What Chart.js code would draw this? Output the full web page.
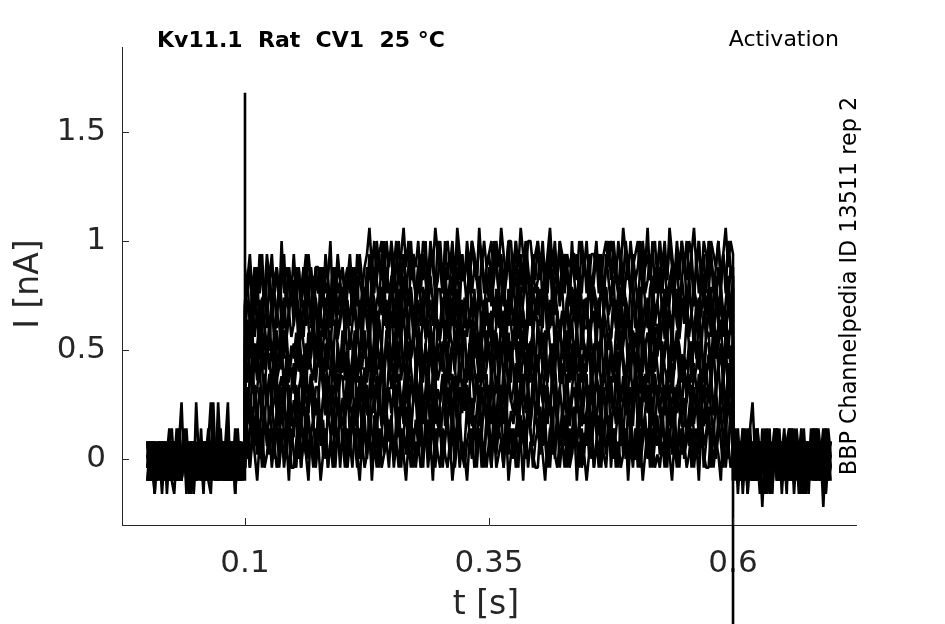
<!DOCTYPE html>
<html>
<head>
<meta charset="utf-8">
<title>Kv11.1 Rat CV1 25 °C - Activation</title>
<script src="https://cdn.jsdelivr.net/npm/chart.js@4.4.0/dist/chart.umd.min.js"></script>
<style>
    html, body { margin: 0; padding: 0; background: #fff; }
    #activationChart { display: block; }
</style>
</head>
<body>
<canvas id="activationChart" width="945" height="624"></canvas>
<script>
// Sample times [s]; 0.1 and 0.6 appear once more for the step transients
const t = [
    0,0.0025,0.005,0.0075,0.01,0.0125,0.015,0.0175,0.02,0.0225,
    0.025,0.0275,0.03,0.0325,0.035,0.0375,0.04,0.0425,0.045,0.0475,
    0.05,0.0525,0.055,0.0575,0.06,0.0625,0.065,0.0675,0.07,0.0725,
    0.075,0.0775,0.08,0.0825,0.085,0.0875,0.09,0.0925,0.095,0.0975,
    0.1,
    0.1,
    0.1,0.1025,0.105,0.1075,0.11,0.1125,0.115,0.1175,0.12,0.1225,
    0.125,0.1275,0.13,0.1325,0.135,0.1375,0.14,0.1425,0.145,0.1475,
    0.15,0.1525,0.155,0.1575,0.16,0.1625,0.165,0.1675,0.17,0.1725,
    0.175,0.1775,0.18,0.1825,0.185,0.1875,0.19,0.1925,0.195,0.1975,
    0.2,0.2025,0.205,0.2075,0.21,0.2125,0.215,0.2175,0.22,0.2225,
    0.225,0.2275,0.23,0.2325,0.235,0.2375,0.24,0.2425,0.245,0.2475,
    0.25,0.2525,0.255,0.2575,0.26,0.2625,0.265,0.2675,0.27,0.2725,
    0.275,0.2775,0.28,0.2825,0.285,0.2875,0.29,0.2925,0.295,0.2975,
    0.3,0.3025,0.305,0.3075,0.31,0.3125,0.315,0.3175,0.32,0.3225,
    0.325,0.3275,0.33,0.3325,0.335,0.3375,0.34,0.3425,0.345,0.3475,
    0.35,0.3525,0.355,0.3575,0.36,0.3625,0.365,0.3675,0.37,0.3725,
    0.375,0.3775,0.38,0.3825,0.385,0.3875,0.39,0.3925,0.395,0.3975,
    0.4,0.4025,0.405,0.4075,0.41,0.4125,0.415,0.4175,0.42,0.4225,
    0.425,0.4275,0.43,0.4325,0.435,0.4375,0.44,0.4425,0.445,0.4475,
    0.45,0.4525,0.455,0.4575,0.46,0.4625,0.465,0.4675,0.47,0.4725,
    0.475,0.4775,0.48,0.4825,0.485,0.4875,0.49,0.4925,0.495,0.4975,
    0.5,0.5025,0.505,0.5075,0.51,0.5125,0.515,0.5175,0.52,0.5225,
    0.525,0.5275,0.53,0.5325,0.535,0.5375,0.54,0.5425,0.545,0.5475,
    0.55,0.5525,0.555,0.5575,0.56,0.5625,0.565,0.5675,0.57,0.5725,
    0.575,0.5775,0.58,0.5825,0.585,0.5875,0.59,0.5925,0.595,0.5975,
    0.6,
    0.6,
    0.6,0.6025,0.605,0.6075,0.61,0.6125,0.615,0.6175,0.62,0.6225,
    0.625,0.6275,0.63,0.6325,0.635,0.6375,0.64,0.6425,0.645,0.6475,
    0.65,0.6525,0.655,0.6575,0.66,0.6625,0.665,0.6675,0.67,0.6725,
    0.675,0.6775,0.68,0.6825,0.685,0.6875,0.69,0.6925,0.695,0.6975,
    0.7
];

// Current sweeps [nA]: holding, test step (0.1-0.6 s), return
// (null = no transient sample on that sweep)
const sweep01 = [
    0.02,-0.04,0.08,-0.1,0.02,0.08,-0.04,0.02,-0.1,0.08,
    0.14,-0.04,0.02,-0.1,-0.04,0.08,0.02,-0.16,0.02,0.08,
    -0.04,0.02,0.08,-0.1,0.02,0.14,-0.04,0.02,-0.1,0.08,
    0.02,-0.04,0.08,0.26,-0.1,0.08,-0.04,0.02,0.08,-0.1,
    0.02,
    null,
    -0.04,0.08,-0.04,0.14,0.02,-0.1,0.08,0.14,-0.04,0.02,
    0.14,-0.04,0.08,-0.04,0.02,0.14,-0.04,0.08,-0.1,0.14,
    0.02,-0.04,0.14,-0.04,0.08,0.02,-0.1,0.14,0.02,-0.04,
    0.08,-0.1,0.02,0.14,-0.04,0.08,-0.04,0.02,0.14,-0.04,
    0.14,0.02,-0.04,0.08,-0.04,0.14,0.02,-0.1,0.08,-0.04,
    0.02,0.14,-0.1,0.08,-0.04,0.14,-0.04,0.02,0.08,-0.04,
    0.14,-0.04,0.08,-0.04,0.14,0.02,-0.1,0.08,-0.04,0.14,
    -0.04,0.08,-0.04,0.02,0.14,-0.04,0.08,-0.1,0.14,0.02,
    -0.04,0.14,0.02,-0.04,0.08,-0.1,0.02,0.14,-0.04,0.08,
    0.02,-0.1,0.08,0.14,-0.04,0.02,0.14,-0.04,0.08,-0.04,
    0.08,-0.04,0.14,-0.04,0.02,0.08,-0.04,0.14,-0.1,0.02,
    0.14,-0.04,0.02,0.08,-0.1,0.14,-0.04,0.08,0.02,-0.04,
    -0.04,0.14,0.02,-0.1,0.08,-0.04,0.14,0.02,-0.04,0.08,
    0.08,-0.04,0.14,-0.04,0.02,0.14,-0.1,0.08,-0.04,0.02,
    -0.1,0.02,0.14,-0.04,0.08,-0.04,0.14,0.02,-0.04,0.14,
    0.02,0.14,-0.04,0.08,-0.04,0.02,0.14,-0.1,0.08,-0.04,
    0.14,-0.04,0.08,-0.1,0.02,0.14,-0.04,0.08,-0.04,0.02,
    -0.04,0.08,-0.04,0.14,0.02,-0.1,0.08,-0.04,0.14,0.02,
    0.08,-0.04,0.02,0.14,-0.04,0.08,-0.1,0.14,0.02,-0.04,
    -0.04,0.14,-0.04,0.08,0.02,-0.1,0.14,-0.04,0.08,-0.04,
    0.02,
    null,
    0.02,-0.04,0.08,-0.1,0.02,0.08,-0.16,0.02,-0.04,0.08,
    -0.1,0.02,0.08,-0.04,0.14,0.02,-0.1,0.08,-0.04,0.02,
    0.08,-0.1,0.02,-0.04,0.08,-0.16,0.02,0.08,-0.04,0.02,
    -0.1,0.08,0.02,0.14,-0.04,0.02,0.08,-0.1,0.02,-0.04,
    0.08
];
const sweep02 = [
    -0.04,0.08,0.02,-0.16,0.02,-0.04,0.08,-0.1,0.02,0.08,
    -0.04,0.02,-0.1,0.08,0.26,-0.04,0.02,0.08,-0.1,0.02,
    0.08,-0.04,0.02,-0.16,0.08,0.02,-0.04,0.14,-0.1,0.02,
    -0.04,0.08,0.02,-0.1,0.08,-0.04,0.02,0.08,-0.1,-0.04,
    0.08,
    null,
    0.18,0,0.12,0.24,0.06,0.18,0,0.12,0.24,0.06,
    0.24,0.12,0,0.18,0.06,0.24,0.12,0,0.18,0.06,
    0.12,0.24,0,0.18,0.06,0.24,0,0.12,0.18,0,
    0.24,0.06,0.18,0,0.24,0.12,0,0.18,0.06,0.24,
    0.06,0.18,0,0.12,0.24,0.06,0.18,0,0.24,0.12,
    0,0.24,0.12,0.06,0.18,0,0.12,0.24,0.06,0.18,
    0.12,0,0.18,0.24,0.06,0.12,0.24,0,0.18,0.06,
    0.18,0.06,0.24,0,0.12,0.18,0.06,0.24,0,0.12,
    0.24,0,0.12,0.18,0,0.24,0.06,0.18,0.12,0,
    0.06,0.24,0.12,0,0.18,0.06,0.24,0.12,0,0.18,
    0.18,0,0.24,0.06,0.12,0.24,0,0.18,0.06,0.12,
    0,0.12,0.24,0.06,0.18,0,0.24,0.12,0.06,0.24,
    0.12,0.24,0.06,0.18,0,0.12,0.24,0,0.18,0.06,
    0.24,0.06,0.18,0,0.12,0.24,0.06,0.18,0,0.12,
    0.06,0.18,0,0.24,0.12,0,0.18,0.06,0.24,0.12,
    0.18,0,0.12,0.24,0.06,0.18,0,0.24,0.12,0,
    0,0.24,0.06,0.18,0.12,0,0.24,0.06,0.18,0.06,
    0.12,0.24,0,0.18,0.06,0.24,0.12,0,0.18,0.24,
    0,0.18,0.06,0.24,0.12,0,0.18,0.24,0.06,0.12,
    0.24,0.06,0.18,0,0.12,0.24,0.06,0.18,0,0.24,
    0.12,
    null,
    -0.04,0.08,0.02,-0.1,0.08,-0.04,0.02,0.14,0.26,0.02,
    -0.1,0.08,-0.04,0.02,-0.16,0.08,0.02,-0.04,0.08,-0.1,
    0.02,0.14,-0.04,0.02,-0.1,0.08,0.02,-0.04,-0.16,0.08,
    0.02,-0.1,0.08,-0.04,0.02,0.08,-0.1,0.02,0.14,-0.04,
    0.02
];
const sweep03 = [
    0.08,-0.1,0.02,0.08,-0.04,0.02,-0.1,0.08,-0.16,0.02,
    0.08,-0.04,0.14,0.02,-0.1,0.08,-0.04,0.02,0.08,-0.1,
    0.26,0.02,-0.04,0.08,-0.1,0.02,0.08,-0.04,0.02,-0.1,
    0.08,0.02,-0.04,0.14,-0.1,0.02,-0.16,0.08,0.02,-0.04,
    0.02,
    null,
    0.34,0.16,0.28,0.1,0.34,0.22,0.1,0.28,0.16,0.34,
    0.16,0.28,0.1,0.22,0.34,0.16,0.28,0.1,0.34,0.22,
    0.1,0.34,0.22,0.16,0.28,0.1,0.22,0.34,0.16,0.28,
    0.22,0.1,0.28,0.34,0.16,0.22,0.34,0.1,0.28,0.16,
    0.28,0.16,0.34,0.1,0.22,0.28,0.16,0.34,0.1,0.22,
    0.34,0.1,0.22,0.28,0.1,0.34,0.16,0.28,0.22,0.1,
    0.16,0.34,0.22,0.1,0.28,0.16,0.34,0.22,0.1,0.28,
    0.28,0.1,0.34,0.16,0.22,0.34,0.1,0.28,0.16,0.22,
    0.1,0.22,0.34,0.16,0.28,0.1,0.34,0.22,0.16,0.34,
    0.22,0.34,0.16,0.28,0.1,0.22,0.34,0.1,0.28,0.16,
    0.34,0.16,0.28,0.1,0.22,0.34,0.16,0.28,0.1,0.22,
    0.16,0.28,0.1,0.34,0.22,0.1,0.28,0.16,0.34,0.22,
    0.28,0.1,0.22,0.34,0.16,0.28,0.1,0.34,0.22,0.1,
    0.1,0.34,0.16,0.28,0.22,0.1,0.34,0.16,0.28,0.16,
    0.22,0.34,0.1,0.28,0.16,0.34,0.22,0.1,0.28,0.34,
    0.1,0.28,0.16,0.34,0.22,0.1,0.28,0.34,0.16,0.22,
    0.34,0.16,0.28,0.1,0.22,0.34,0.16,0.28,0.1,0.34,
    0.22,0.1,0.34,0.16,0.28,0.22,0.1,0.34,0.22,0.16,
    0.28,0.1,0.22,0.34,0.16,0.28,0.1,0.22,0.34,0.16,
    0.34,0.22,0.1,0.28,0.16,0.34,0.22,0.1,0.28,0.16,
    0.22,
    null,
    0.08,-0.1,0.02,0.08,-0.04,0.02,-0.16,0.08,0.02,-0.04,
    0.14,0.02,-0.22,0.02,0.08,-0.04,0.02,0.08,-0.1,0.02,
    -0.04,0.08,0.02,-0.1,0.14,-0.04,0.02,0.08,-0.1,-0.16,
    0.08,0.02,-0.04,0.08,-0.1,0.02,0.08,-0.04,0.02,0.08,
    -0.1
];
const sweep04 = [
    -0.1,0.02,0.08,-0.04,0.02,-0.1,0.08,0.02,-0.04,0.08,
    -0.1,-0.16,0.02,0.08,-0.04,0.14,0.02,-0.1,0.08,-0.04,
    0.02,0.08,-0.1,0.02,-0.04,0.08,0.26,-0.04,0.02,0.08,
    -0.1,0.02,0.08,-0.04,0.02,-0.1,0.08,0.14,-0.04,0.02,
    -0.04,
    null,
    0.32,0.2,0.38,0.44,0.26,0.32,0.44,0.2,0.38,0.26,
    0.38,0.26,0.44,0.2,0.32,0.38,0.26,0.44,0.2,0.32,
    0.44,0.2,0.32,0.38,0.2,0.44,0.26,0.38,0.32,0.2,
    0.26,0.44,0.32,0.2,0.38,0.26,0.44,0.32,0.2,0.38,
    0.38,0.2,0.44,0.26,0.32,0.44,0.2,0.38,0.26,0.32,
    0.2,0.32,0.44,0.26,0.38,0.2,0.44,0.32,0.26,0.44,
    0.32,0.44,0.26,0.38,0.2,0.32,0.44,0.2,0.38,0.26,
    0.44,0.26,0.38,0.2,0.32,0.44,0.26,0.38,0.2,0.32,
    0.26,0.38,0.2,0.44,0.32,0.2,0.38,0.26,0.44,0.32,
    0.38,0.2,0.32,0.44,0.26,0.38,0.2,0.44,0.32,0.2,
    0.2,0.44,0.26,0.38,0.32,0.2,0.44,0.26,0.38,0.26,
    0.32,0.44,0.2,0.38,0.26,0.44,0.32,0.2,0.38,0.44,
    0.2,0.38,0.26,0.44,0.32,0.2,0.38,0.44,0.26,0.32,
    0.44,0.26,0.38,0.2,0.32,0.44,0.26,0.38,0.2,0.44,
    0.32,0.2,0.44,0.26,0.38,0.32,0.2,0.44,0.32,0.26,
    0.38,0.2,0.32,0.44,0.26,0.38,0.2,0.32,0.44,0.26,
    0.44,0.32,0.2,0.38,0.26,0.44,0.32,0.2,0.38,0.26,
    0.32,0.44,0.2,0.38,0.26,0.44,0.2,0.32,0.38,0.2,
    0.44,0.26,0.38,0.2,0.44,0.32,0.2,0.38,0.26,0.44,
    0.26,0.38,0.2,0.32,0.44,0.26,0.38,0.2,0.44,0.32,
    0.2,
    null,
    0.02,0.14,-0.04,0.02,-0.1,0.08,0.02,-0.04,0.08,-0.1,
    0.02,-0.16,0.08,0.02,-0.04,0.08,-0.1,0.02,0.14,-0.04,
    0.02,0.08,-0.1,0.02,-0.04,0.08,0.02,-0.16,0.08,-0.04,
    0.02,-0.1,0.08,0.02,-0.04,0.14,0.02,-0.22,0.02,0.08,
    -0.04
];
const sweep05 = [
    0.02,0.08,-0.04,-0.1,0.08,0.02,-0.16,0.02,0.08,-0.04,
    0.02,-0.1,0.08,0.14,0.02,-0.04,0.08,-0.1,0.02,-0.16,
    0.02,0.08,-0.04,0.02,-0.1,0.08,0.02,0.26,-0.04,0.02,
    0.08,-0.1,-0.04,0.02,0.08,0.02,-0.1,0.08,-0.04,0.02,
    0.08,
    null,
    0.36,0.54,0.42,0.3,0.48,0.36,0.54,0.42,0.3,0.48,
    0.48,0.3,0.54,0.36,0.42,0.54,0.3,0.48,0.36,0.42,
    0.3,0.42,0.54,0.36,0.48,0.3,0.54,0.42,0.36,0.54,
    0.42,0.54,0.36,0.48,0.3,0.42,0.54,0.3,0.48,0.36,
    0.54,0.36,0.48,0.3,0.42,0.54,0.36,0.48,0.3,0.42,
    0.36,0.48,0.3,0.54,0.42,0.3,0.48,0.36,0.54,0.42,
    0.48,0.3,0.42,0.54,0.36,0.48,0.3,0.54,0.42,0.3,
    0.3,0.54,0.36,0.48,0.42,0.3,0.54,0.36,0.48,0.36,
    0.42,0.54,0.3,0.48,0.36,0.54,0.42,0.3,0.48,0.54,
    0.3,0.48,0.36,0.54,0.42,0.3,0.48,0.54,0.36,0.42,
    0.54,0.36,0.48,0.3,0.42,0.54,0.36,0.48,0.3,0.54,
    0.42,0.3,0.54,0.36,0.48,0.42,0.3,0.54,0.42,0.36,
    0.48,0.3,0.42,0.54,0.36,0.48,0.3,0.42,0.54,0.36,
    0.54,0.42,0.3,0.48,0.36,0.54,0.42,0.3,0.48,0.36,
    0.42,0.54,0.3,0.48,0.36,0.54,0.3,0.42,0.48,0.3,
    0.54,0.36,0.48,0.3,0.54,0.42,0.3,0.48,0.36,0.54,
    0.36,0.48,0.3,0.42,0.54,0.36,0.48,0.3,0.54,0.42,
    0.3,0.54,0.42,0.36,0.48,0.3,0.42,0.54,0.36,0.48,
    0.42,0.3,0.48,0.54,0.36,0.42,0.54,0.3,0.48,0.36,
    0.48,0.36,0.54,0.3,0.42,0.48,0.36,0.54,0.3,0.42,
    0.54,
    null,
    -0.1,0.02,0.08,-0.04,0.14,-0.1,0.02,0.08,-0.04,0.02,
    0.08,-0.1,-0.04,0.08,0.02,-0.16,0.02,0.08,-0.04,0.14,
    -0.1,0.02,0.08,-0.04,0.02,0.08,-0.1,0.02,0.14,-0.04,
    0.02,-0.16,0.08,0.02,-0.04,0.08,-0.1,0.02,0.08,0.02,
    -0.04
];
const sweep06 = [
    -0.04,0.02,-0.1,0.08,0.02,-0.04,0.08,-0.1,0.02,0.14,
    -0.04,0.08,0.02,-0.1,0.02,0.08,-0.16,0.02,-0.04,0.08,
    -0.1,0.02,0.08,-0.04,0.02,-0.1,0.08,0.02,-0.04,0.26,
    0.02,-0.1,0.08,-0.04,0.02,0.08,-0.1,0.02,0.08,-0.04,
    0.02,
    null,
    0.52,0.64,0.46,0.58,0.4,0.52,0.64,0.4,0.58,0.46,
    0.64,0.46,0.58,0.4,0.52,0.64,0.46,0.58,0.4,0.52,
    0.46,0.58,0.4,0.64,0.52,0.4,0.58,0.46,0.64,0.52,
    0.58,0.4,0.52,0.64,0.46,0.58,0.4,0.64,0.52,0.4,
    0.4,0.64,0.46,0.58,0.52,0.4,0.64,0.46,0.58,0.46,
    0.52,0.64,0.4,0.58,0.46,0.64,0.52,0.4,0.58,0.64,
    0.4,0.58,0.46,0.64,0.52,0.4,0.58,0.64,0.46,0.52,
    0.64,0.46,0.58,0.4,0.52,0.64,0.46,0.58,0.4,0.64,
    0.52,0.4,0.64,0.46,0.58,0.52,0.4,0.64,0.52,0.46,
    0.58,0.4,0.52,0.64,0.46,0.58,0.4,0.52,0.64,0.46,
    0.64,0.52,0.4,0.58,0.46,0.64,0.52,0.4,0.58,0.46,
    0.52,0.64,0.4,0.58,0.46,0.64,0.4,0.52,0.58,0.4,
    0.64,0.46,0.58,0.4,0.64,0.52,0.4,0.58,0.46,0.64,
    0.46,0.58,0.4,0.52,0.64,0.46,0.58,0.4,0.64,0.52,
    0.4,0.64,0.52,0.46,0.58,0.4,0.52,0.64,0.46,0.58,
    0.52,0.4,0.58,0.64,0.46,0.52,0.64,0.4,0.58,0.46,
    0.58,0.46,0.64,0.4,0.52,0.58,0.46,0.64,0.4,0.52,
    0.64,0.4,0.52,0.58,0.4,0.64,0.46,0.58,0.52,0.4,
    0.46,0.64,0.52,0.4,0.58,0.46,0.64,0.52,0.4,0.58,
    0.58,0.4,0.64,0.46,0.52,0.64,0.4,0.58,0.46,0.52,
    0.4,
    null,
    0.08,0.02,-0.04,0.08,-0.16,0.02,0.14,-0.04,0.02,-0.1,
    0.08,0.02,-0.04,0.14,-0.1,0.02,0.08,-0.04,0.02,0.08,
    -0.16,0.02,0.08,-0.04,0.02,-0.1,0.14,0.02,-0.04,0.08,
    -0.1,0.02,0.08,-0.04,0.14,0.02,-0.1,0.08,-0.16,0.02,
    0.08
];
const sweep07 = [
    0.08,0.02,-0.04,0.08,-0.1,0.02,0.08,-0.04,0.02,-0.1,
    0.08,0.02,-0.04,0.14,-0.1,0.02,0.08,-0.04,0.02,0.08,
    -0.1,0.02,-0.04,0.08,0.02,-0.1,-0.16,0.08,0.02,-0.04,
    0.08,0.02,-0.1,0.02,0.08,-0.04,0.14,0.02,-0.1,0.08,
    -0.04,
    null,
    0.68,0.5,0.62,0.74,0.56,0.68,0.5,0.74,0.62,0.5,
    0.5,0.74,0.56,0.68,0.62,0.5,0.74,0.56,0.68,0.56,
    0.62,0.74,0.5,0.68,0.56,0.74,0.62,0.5,0.68,0.74,
    0.5,0.68,0.56,0.74,0.62,0.5,0.68,0.74,0.56,0.62,
    0.74,0.56,0.68,0.5,0.62,0.74,0.56,0.68,0.5,0.74,
    0.62,0.5,0.74,0.56,0.68,0.62,0.5,0.74,0.62,0.56,
    0.68,0.5,0.62,0.74,0.56,0.68,0.5,0.62,0.74,0.56,
    0.74,0.62,0.5,0.68,0.56,0.74,0.62,0.5,0.68,0.56,
    0.62,0.74,0.5,0.68,0.56,0.74,0.5,0.62,0.68,0.5,
    0.74,0.56,0.68,0.5,0.74,0.62,0.5,0.68,0.56,0.74,
    0.56,0.68,0.5,0.62,0.74,0.56,0.68,0.5,0.74,0.62,
    0.5,0.74,0.62,0.56,0.68,0.5,0.62,0.74,0.56,0.68,
    0.62,0.5,0.68,0.74,0.56,0.62,0.74,0.5,0.68,0.56,
    0.68,0.56,0.74,0.5,0.62,0.68,0.56,0.74,0.5,0.62,
    0.74,0.5,0.62,0.68,0.5,0.74,0.56,0.68,0.62,0.5,
    0.56,0.74,0.62,0.5,0.68,0.56,0.74,0.62,0.5,0.68,
    0.68,0.5,0.74,0.56,0.62,0.74,0.5,0.68,0.56,0.62,
    0.5,0.62,0.74,0.56,0.68,0.5,0.74,0.62,0.56,0.74,
    0.62,0.74,0.56,0.68,0.5,0.62,0.74,0.5,0.68,0.56,
    0.74,0.56,0.68,0.5,0.62,0.74,0.56,0.68,0.5,0.62,
    0.56,
    null,
    -0.04,0.02,0.08,-0.1,0.02,0.14,-0.04,0.08,-0.1,0.02,
    -0.04,0.08,0.02,-0.16,0.08,-0.04,0.02,0.14,-0.1,0.02,
    0.08,-0.04,0.02,0.08,-0.1,0.14,0.02,-0.04,0.08,0.02,
    -0.16,0.08,-0.04,0.02,0.08,-0.1,0.02,0.14,-0.04,0.02,
    0.02
];
const sweep08 = [
    0.02,-0.1,0.08,0.02,-0.04,0.08,0.02,-0.1,0.08,-0.04,
    0.02,0.08,-0.1,0.02,-0.04,0.08,0.02,-0.04,-0.16,0.08,
    0.02,-0.04,0.14,-0.1,0.02,0.08,-0.04,0.02,0.08,-0.1,
    0.02,0.08,-0.04,0.02,-0.1,0.08,0.02,-0.04,0.08,0.02,
    -0.1,
    null,
    0.72,0.84,0.6,0.78,0.66,0.84,0.6,0.72,0.78,0.6,
    0.84,0.66,0.78,0.6,0.84,0.72,0.6,0.78,0.66,0.84,
    0.66,0.78,0.6,0.72,0.84,0.66,0.78,0.6,0.84,0.72,
    0.6,0.84,0.72,0.66,0.78,0.6,0.72,0.84,0.66,0.78,
    0.72,0.6,0.78,0.84,0.66,0.72,0.84,0.6,0.78,0.66,
    0.78,0.66,0.84,0.6,0.72,0.78,0.66,0.84,0.6,0.72,
    0.84,0.6,0.72,0.78,0.6,0.84,0.66,0.78,0.72,0.6,
    0.66,0.84,0.72,0.6,0.78,0.66,0.84,0.72,0.6,0.78,
    0.78,0.6,0.84,0.66,0.72,0.84,0.6,0.78,0.66,0.72,
    0.6,0.72,0.84,0.66,0.78,0.6,0.84,0.72,0.66,0.84,
    0.72,0.84,0.66,0.78,0.6,0.72,0.84,0.6,0.78,0.66,
    0.84,0.66,0.78,0.6,0.72,0.84,0.66,0.78,0.6,0.72,
    0.66,0.78,0.6,0.84,0.72,0.6,0.78,0.66,0.84,0.72,
    0.78,0.6,0.72,0.84,0.66,0.78,0.6,0.84,0.72,0.6,
    0.6,0.84,0.66,0.78,0.72,0.6,0.84,0.66,0.78,0.66,
    0.72,0.84,0.6,0.78,0.66,0.84,0.72,0.6,0.78,0.84,
    0.6,0.78,0.66,0.84,0.72,0.6,0.78,0.84,0.66,0.72,
    0.84,0.66,0.78,0.6,0.72,0.84,0.66,0.78,0.6,0.84,
    0.72,0.6,0.84,0.66,0.78,0.72,0.6,0.84,0.72,0.66,
    0.78,0.6,0.72,0.84,0.66,0.78,0.6,0.72,0.84,0.66,
    0.84,
    null,
    0.14,-0.04,0.02,-0.1,0.08,0.02,-0.04,0.08,-0.1,0.14,
    0.02,-0.04,0.08,-0.1,0.02,0.14,-0.16,0.02,0.08,-0.04,
    0.02,-0.1,0.08,0.14,-0.04,0.02,0.08,-0.1,0.02,-0.16,
    0.08,0.02,-0.04,0.14,0.02,-0.1,0.08,0.02,-0.04,0.14,
    0.02
];
const sweep09 = [
    -0.1,0.08,-0.04,-0.16,0.08,0.02,-0.04,0.08,0.02,-0.1,
    0.08,-0.04,0.02,0.08,-0.1,0.02,0.14,-0.04,0.08,0.02,
    -0.1,0.02,0.08,-0.04,0.02,0.08,-0.1,0.02,-0.04,0.08,
    0.14,-0.04,0.02,-0.1,0.08,0.02,-0.04,0.08,-0.1,0.02,
    0.08,
    null,
    0.7,0.82,0.94,0.76,0.88,0.7,0.94,0.82,0.76,0.94,
    0.82,0.94,0.76,0.88,0.7,0.82,0.94,0.7,0.88,0.76,
    0.94,0.76,0.88,0.7,0.82,0.94,0.76,0.88,0.7,0.82,
    0.76,0.88,0.7,0.94,0.82,0.7,0.88,0.76,0.94,0.82,
    0.88,0.7,0.82,0.94,0.76,0.88,0.7,0.94,0.82,0.7,
    0.7,0.94,0.76,0.88,0.82,0.7,0.94,0.76,0.88,0.76,
    0.82,0.94,0.7,0.88,0.76,0.94,0.82,0.7,0.88,0.94,
    0.7,0.88,0.76,0.94,0.82,0.7,0.88,0.94,0.76,0.82,
    0.94,0.76,0.88,0.7,0.82,0.94,0.76,0.88,0.7,0.94,
    0.82,0.7,0.94,0.76,0.88,0.82,0.7,0.94,0.82,0.76,
    0.88,0.7,0.82,0.94,0.76,0.88,0.7,0.82,0.94,0.76,
    0.94,0.82,0.7,0.88,0.76,0.94,0.82,0.7,0.88,0.76,
    0.82,0.94,0.7,0.88,0.76,0.94,0.7,0.82,0.88,0.7,
    0.94,0.76,0.88,0.7,0.94,0.82,0.7,0.88,0.76,0.94,
    0.76,0.88,0.7,0.82,0.94,0.76,0.88,0.7,0.94,0.82,
    0.7,0.94,0.82,0.76,0.88,0.7,0.82,0.94,0.76,0.88,
    0.82,0.7,0.88,0.94,0.76,0.82,0.94,0.7,0.88,0.76,
    0.88,0.76,0.94,0.7,0.82,0.88,0.76,0.94,0.7,0.82,
    0.94,0.7,0.82,0.88,0.7,0.94,0.76,0.88,0.82,0.7,
    0.76,0.94,0.82,0.7,0.88,0.76,0.94,0.82,0.7,0.88,
    0.88,
    null,
    0.02,0.08,-0.16,0.02,0.14,-0.04,0.02,0.08,-0.1,0.02,
    0.14,-0.04,0.08,0.02,-0.1,0.08,-0.04,0.14,0.02,-0.1,
    0.08,0.02,-0.16,0.14,0.02,-0.04,0.08,0.02,-0.1,0.14,
    -0.04,0.02,0.08,-0.1,0.14,0.02,-0.04,0.08,-0.16,0.02,
    0.08
];
const sweep10 = [
    0.08,-0.04,0.02,0.08,-0.1,0.02,-0.04,0.08,0.02,-0.1,
    0.02,0.08,-0.04,0.02,-0.1,0.08,0.02,-0.04,0.08,0.02,
    -0.04,0.08,-0.1,0.02,0.08,-0.04,0.02,-0.1,0.08,0.02,
    -0.04,0.08,0.02,-0.1,0.02,0.08,-0.16,0.02,0.08,-0.04,
    0.02,
    1.68,
    0.88,0.76,0.88,0.7,0.82,0.88,0.76,0.94,0.7,0.82,
    0.88,0.7,0.82,0.88,0.7,1,0.76,0.88,0.82,0.7,
    0.76,0.88,0.82,0.7,0.88,0.76,0.94,0.82,0.7,0.88,
    0.88,0.7,0.88,0.76,0.82,1,0.7,0.88,0.76,0.82,
    0.7,0.82,0.88,0.76,0.88,0.7,0.94,0.82,0.76,0.88,
    0.94,1.06,0.88,1,0.82,0.94,1,0.82,1,0.88,
    1,0.88,1,0.82,0.94,1.06,0.88,1,0.82,0.94,
    0.88,1,0.82,1,0.94,0.82,1,0.88,1.06,0.94,
    1,0.82,0.94,1,0.88,1,0.82,1.06,0.94,0.82,
    0.82,1,0.88,1,0.94,0.82,1.06,0.88,1,0.88,
    0.94,1,0.82,1,0.88,1.06,0.94,0.82,1,1,
    0.82,1,0.88,1.06,0.94,0.82,1,1,0.88,0.94,
    1,0.88,1,0.82,0.94,1.06,0.88,1,0.82,1,
    0.94,0.82,0.94,0.88,0.94,0.94,0.82,1,0.94,0.88,
    1,0.82,0.94,0.94,0.88,0.94,0.82,0.94,1,0.88,
    1,0.94,0.82,1,0.88,1.06,0.94,0.82,1,0.88,
    0.94,1,0.82,1,0.88,1.06,0.82,0.94,1,0.82,
    1,0.88,1,0.82,1.06,0.94,0.82,1,0.88,1,
    0.88,1,0.82,0.94,1.06,0.88,1,0.82,1,0.94,
    0.82,1,0.94,0.88,1,0.82,0.94,1.06,0.88,1,
    0.94,
    -1.0,
    -0.1,0.02,0.14,-0.04,0.08,0.02,-0.1,0.14,-0.04,0.02,
    0.08,-0.1,0.14,0.02,-0.04,0.08,-0.16,0.02,0.14,-0.04,
    0.02,0.08,-0.1,0.02,0.14,-0.04,0.08,0.02,-0.16,0.08,
    0.02,-0.04,0.14,0.02,-0.1,0.08,0.02,-0.04,0.14,-0.1,
    0.02
];
const sweep11 = [
    -0.04,0.08,-0.1,0.02,0.02,-0.04,0.08,-0.1,0.02,0.02,
    -0.1,0.08,0.02,-0.1,0.02,-0.04,0.08,-0.1,0.02,0.02,
    0.02,-0.04,0.08,-0.1,0.02,0.02,-0.1,0.08,-0.04,0.02,
    0.02,0.02,-0.1,0.08,-0.04,0.02,0.02,-0.1,0.08,-0.04,
    0.08,
    null,
    0.2,0.14,-0.04,0.08,0.2,0.02,0.14,-0.04,0.2,0.08,
    0.02,0.14,0.02,0.2,-0.04,0.08,0.14,0.02,0.2,-0.04,
    -0.04,0.08,0.2,-0.04,0.14,0.02,0.2,0.08,-0.04,0.14,
    0.08,0.2,0.02,0.14,-0.04,0.08,0.2,-0.04,0.14,0.02,
    0.08,-0.04,0.14,0.02,0.2,0.08,-0.04,0.14,0.02,0.2,
    0.02,0.14,-0.04,0.2,0.08,-0.04,0.14,0.02,0.2,0.08,
    0.2,0.02,0.08,0.2,-0.04,0.14,0.02,0.2,0.08,-0.04,
    0.08,0.02,0.14,-0.04,0.2,0.08,0.02,0.2,-0.04,0.14,
    0.14,-0.04,0.08,0.2,0.02,0.14,-0.04,0.08,0.2,0.02,
    -0.04,0.08,0.14,0.02,0.2,-0.04,0.14,0.08,-0.04,0.2,
    0.08,-0.04,0.2,0.02,0.14,0.08,-0.04,0.2,0.02,0.14,
    0.02,0.14,-0.04,0.2,0.08,0.02,0.2,0.14,-0.04,0.08,
    0.14,0.02,0.2,0.08,-0.04,0.14,0.02,0.08,0.2,-0.04,
    0.08,0.2,-0.04,0.14,0.02,0.2,0.08,-0.04,0.14,0.02,
    0.2,0.02,0.14,-0.04,0.08,0.2,-0.04,0.14,0.02,0.2,
    -0.04,0.14,0.08,-0.04,0.2,0.02,0.14,-0.04,0.2,0.08,
    0.02,0.14,-0.04,0.08,0.2,0.02,0.14,-0.04,0.08,0.2,
    0.02,0.2,0.08,-0.04,0.14,0.02,0.2,0.08,-0.04,0.14,
    0.02,0.08,0.2,-0.04,0.08,0.14,0.02,0.2,-0.04,0.08,
    0.2,-0.04,0.14,0.02,0.2,0.08,-0.04,0.14,0.02,0.2,
    0.08,
    null,
    -0.04,0.08,-0.1,0.02,0.02,-0.04,0.02,0.08,-0.1,0.02,
    0.02,-0.1,0.02,-0.04,0.08,0.02,-0.1,0.02,-0.04,0.08,
    -0.1,0.02,0.08,-0.04,0.02,-0.1,0.08,0.02,-0.1,0.02,
    0.08,-0.1,0.02,0.02,-0.04,0.08,-0.1,0.02,0.02,-0.04,
    0.02
];
const sweep12 = [
    0.08,-0.04,0.02,0.02,-0.1,0.08,-0.04,0.02,0.02,-0.1,
    -0.04,0.08,-0.1,0.02,0.02,-0.04,0.02,0.08,-0.1,0.02,
    0.02,-0.1,0.02,-0.04,0.08,0.02,-0.1,0.02,-0.04,0.08,
    -0.1,0.02,0.08,-0.04,0.02,-0.1,0.08,0.02,-0.1,0.02,
    0.08,
    null,
    0.21,0.33,0.15,0.39,0.27,0.15,0.33,0.21,0.39,0.27,
    0.39,0.21,0.27,0.39,0.15,0.33,0.21,0.39,0.27,0.15,
    0.27,0.21,0.33,0.15,0.39,0.27,0.21,0.39,0.15,0.33,
    0.33,0.15,0.27,0.39,0.21,0.33,0.15,0.27,0.39,0.21,
    0.15,0.27,0.33,0.21,0.39,0.15,0.33,0.27,0.15,0.39,
    0.27,0.15,0.39,0.21,0.33,0.27,0.15,0.39,0.21,0.33,
    0.21,0.33,0.15,0.39,0.27,0.21,0.39,0.33,0.15,0.27,
    0.33,0.21,0.39,0.27,0.15,0.33,0.21,0.27,0.39,0.15,
    0.27,0.39,0.15,0.33,0.21,0.39,0.27,0.15,0.33,0.21,
    0.39,0.21,0.33,0.15,0.27,0.39,0.15,0.33,0.21,0.39,
    0.15,0.33,0.27,0.15,0.39,0.21,0.33,0.15,0.39,0.27,
    0.21,0.33,0.15,0.27,0.39,0.21,0.33,0.15,0.27,0.39,
    0.21,0.39,0.27,0.15,0.33,0.21,0.39,0.27,0.15,0.33,
    0.21,0.27,0.39,0.15,0.27,0.33,0.21,0.39,0.15,0.27,
    0.39,0.15,0.33,0.21,0.39,0.27,0.15,0.33,0.21,0.39,
    0.27,0.21,0.39,0.33,0.15,0.27,0.39,0.21,0.33,0.15,
    0.39,0.33,0.15,0.27,0.39,0.21,0.33,0.15,0.39,0.27,
    0.21,0.33,0.21,0.39,0.15,0.27,0.33,0.21,0.39,0.15,
    0.15,0.27,0.39,0.15,0.33,0.21,0.39,0.27,0.15,0.33,
    0.27,0.39,0.21,0.33,0.15,0.27,0.39,0.15,0.33,0.21,
    0.27,
    null,
    0.02,-0.04,0.08,-0.1,0.02,0.02,-0.04,0.02,-0.1,0.08,
    0.02,-0.04,0.02,0.02,-0.1,0.08,-0.04,0.02,0.02,-0.1,
    -0.04,0.08,-0.1,0.02,0.02,-0.1,0.08,-0.04,0.02,0.02,
    0.02,-0.1,0.08,-0.04,0.02,0.02,-0.1,0.08,-0.04,0.02,
    0.02
];
const sweep13 = [
    0.08,-0.1,0.02,0.02,-0.04,0.08,-0.1,0.02,0.02,-0.04,
    0.02,-0.04,0.08,-0.1,0.02,0.02,-0.04,0.02,-0.1,0.08,
    0.02,-0.04,0.02,0.02,-0.1,0.08,-0.04,0.02,0.02,-0.1,
    -0.04,0.08,-0.1,0.02,0.02,-0.1,0.08,-0.04,0.02,0.02,
    0.02,
    null,
    0.47,0.35,0.59,0.41,0.53,0.47,0.35,0.59,0.41,0.53,
    0.41,0.53,0.35,0.59,0.47,0.41,0.59,0.53,0.35,0.47,
    0.53,0.41,0.59,0.47,0.35,0.53,0.41,0.47,0.59,0.35,
    0.47,0.59,0.35,0.53,0.41,0.59,0.47,0.35,0.53,0.41,
    0.59,0.41,0.53,0.35,0.47,0.59,0.35,0.53,0.41,0.59,
    0.35,0.53,0.47,0.35,0.59,0.41,0.53,0.35,0.59,0.47,
    0.41,0.53,0.35,0.47,0.59,0.41,0.53,0.35,0.47,0.59,
    0.41,0.59,0.47,0.35,0.53,0.41,0.59,0.47,0.35,0.53,
    0.41,0.47,0.59,0.35,0.47,0.53,0.41,0.59,0.35,0.47,
    0.59,0.35,0.53,0.41,0.59,0.47,0.35,0.53,0.41,0.59,
    0.47,0.41,0.59,0.53,0.35,0.47,0.59,0.41,0.53,0.35,
    0.59,0.53,0.35,0.47,0.59,0.41,0.53,0.35,0.59,0.47,
    0.41,0.53,0.41,0.59,0.35,0.47,0.53,0.41,0.59,0.35,
    0.35,0.47,0.59,0.35,0.53,0.41,0.59,0.47,0.35,0.53,
    0.47,0.59,0.41,0.53,0.35,0.47,0.59,0.35,0.53,0.41,
    0.47,0.35,0.53,0.41,0.59,0.47,0.35,0.53,0.41,0.59,
    0.41,0.53,0.35,0.59,0.47,0.35,0.53,0.41,0.59,0.47,
    0.59,0.41,0.47,0.59,0.35,0.53,0.41,0.59,0.47,0.35,
    0.47,0.41,0.53,0.35,0.59,0.47,0.41,0.59,0.35,0.53,
    0.53,0.35,0.47,0.59,0.41,0.53,0.35,0.47,0.59,0.41,
    0.35,
    null,
    0.02,0.02,-0.04,0.08,-0.1,0.02,0.02,-0.1,0.08,-0.04,
    -0.1,0.02,0.02,-0.1,0.08,-0.04,0.02,0.02,-0.1,0.08,
    -0.04,0.08,-0.04,0.02,-0.1,0.02,0.08,-0.04,0.02,-0.1,
    0.02,0.08,-0.1,0.02,0.02,-0.04,0.08,-0.1,0.02,0.02,
    0.02
];
const sweep14 = [
    0.02,-0.1,0.08,-0.04,0.02,0.02,-0.1,0.08,-0.04,0.02,
    0.02,0.02,-0.04,0.08,-0.1,0.02,0.02,-0.1,0.08,-0.04,
    -0.1,0.02,0.02,-0.1,0.08,-0.04,0.02,0.02,-0.1,0.08,
    -0.04,0.08,-0.04,0.02,-0.1,0.02,0.08,-0.04,0.02,-0.1,
    0.02,
    null,
    0.55,0.73,0.67,0.55,0.79,0.61,0.73,0.55,0.79,0.67,
    0.61,0.73,0.55,0.67,0.79,0.61,0.73,0.55,0.67,0.79,
    0.61,0.79,0.67,0.55,0.73,0.61,0.79,0.67,0.55,0.73,
    0.61,0.67,0.79,0.55,0.67,0.73,0.61,0.79,0.55,0.67,
    0.79,0.55,0.73,0.61,0.79,0.67,0.55,0.73,0.61,0.79,
    0.67,0.61,0.79,0.73,0.55,0.67,0.79,0.61,0.73,0.55,
    0.79,0.73,0.55,0.67,0.79,0.61,0.73,0.55,0.79,0.67,
    0.61,0.73,0.61,0.79,0.55,0.67,0.73,0.61,0.79,0.55,
    0.55,0.67,0.79,0.55,0.73,0.61,0.79,0.67,0.55,0.73,
    0.67,0.79,0.61,0.73,0.55,0.67,0.79,0.55,0.73,0.61,
    0.67,0.55,0.73,0.61,0.79,0.67,0.55,0.73,0.61,0.79,
    0.61,0.73,0.55,0.79,0.67,0.55,0.73,0.61,0.79,0.67,
    0.79,0.61,0.67,0.79,0.55,0.73,0.61,0.79,0.67,0.55,
    0.67,0.61,0.73,0.55,0.79,0.67,0.61,0.79,0.55,0.73,
    0.73,0.55,0.67,0.79,0.61,0.73,0.55,0.67,0.79,0.61,
    0.55,0.67,0.73,0.61,0.79,0.55,0.73,0.67,0.55,0.79,
    0.67,0.55,0.79,0.61,0.73,0.67,0.55,0.79,0.61,0.73,
    0.61,0.73,0.55,0.79,0.67,0.61,0.79,0.73,0.55,0.67,
    0.73,0.61,0.79,0.67,0.55,0.73,0.61,0.67,0.79,0.55,
    0.67,0.79,0.55,0.73,0.61,0.79,0.67,0.55,0.73,0.61,
    0.79,
    null,
    0.02,-0.04,0.02,0.08,-0.1,0.02,0.02,-0.04,0.08,-0.1,
    0.02,-0.1,0.08,-0.04,0.02,0.02,-0.1,0.08,-0.04,0.02,
    -0.04,0.02,0.02,-0.1,0.02,0.08,-0.04,0.02,-0.1,0.02,
    -0.04,0.02,0.02,-0.1,0.08,-0.04,0.02,0.02,-0.1,0.08,
    -0.04
];
const sweep15 = [
    -0.04,0.02,0.02,-0.1,0.02,0.08,-0.04,0.02,-0.1,0.02,
    0.02,-0.1,0.08,-0.04,0.02,0.02,-0.1,0.08,-0.04,0.02,
    0.02,-0.04,0.02,0.08,-0.1,0.02,0.02,-0.04,0.08,-0.1,
    0.02,0.08,-0.1,0.02,0.02,-0.04,0.08,-0.1,0.02,0.02,
    -0.04,
    null,
    0.7,0.82,0.88,0.7,0.88,0.76,0.88,0.82,0.7,0.88,
    0.82,0.88,0.76,0.88,0.7,0.82,0.88,0.7,0.88,0.76,
    0.82,0.7,0.88,0.76,0.88,0.82,0.7,0.88,0.76,0.88,
    0.76,0.88,0.7,0.88,0.82,0.7,0.88,0.76,0.88,0.82,
    0.88,0.76,0.82,0.88,0.7,0.88,0.76,0.88,0.82,0.7,
    0.88,0.82,0.94,0.76,1,0.88,0.82,1,0.76,0.94,
    0.94,0.76,0.88,1,0.82,0.94,0.76,0.88,1,0.82,
    0.76,0.88,0.94,0.82,1,0.76,0.94,0.88,0.76,1,
    0.88,0.76,1,0.82,0.94,0.88,0.76,1,0.82,0.94,
    0.82,0.94,0.76,1,0.88,0.82,1,0.94,0.76,0.88,
    0.94,0.82,1,0.88,0.76,0.94,0.82,0.88,1,0.76,
    0.88,1,0.76,0.94,0.82,1,0.88,0.76,0.94,0.82,
    1,0.82,0.94,0.76,0.88,1,0.76,0.94,0.82,1,
    0.76,0.94,0.88,0.76,1,0.82,0.94,0.76,1,0.88,
    0.82,0.94,0.76,0.88,1,0.82,0.94,0.76,0.88,1,
    0.82,1,0.88,0.76,0.94,0.82,1,0.88,0.76,0.94,
    0.82,0.88,1,0.76,0.88,0.94,0.82,1,0.76,0.88,
    1,0.76,0.94,0.82,1,0.88,0.76,0.94,0.82,1,
    0.88,0.82,1,0.94,0.76,0.88,1,0.82,0.94,0.76,
    1,0.94,0.76,0.88,1,0.82,0.94,0.76,1,0.88,
    0.82,
    null,
    -0.1,0.08,0.02,-0.1,0.02,-0.04,0.08,-0.1,0.02,0.02,
    0.02,-0.04,0.08,-0.1,0.02,0.02,-0.1,0.08,-0.04,0.02,
    0.02,0.02,-0.1,0.08,-0.04,0.02,0.02,-0.1,0.08,-0.04,
    0.08,-0.04,0.02,0.02,-0.1,0.08,-0.04,0.02,0.02,-0.1,
    -0.04
];

const sweeps = [sweep01, sweep02, sweep03, sweep04, sweep05,
                sweep06, sweep07, sweep08, sweep09, sweep10,
                sweep11, sweep12, sweep13, sweep14, sweep15];

// Axes
const xTicks = [0.1, 0.35, 0.6];
const yTicks = [0, 0.5, 1, 1.5];
const xRange = [-0.026, 0.726];
const yRange = [-0.303, 1.89];

const AXIS_COLOR = '#262626';
const FONT = 'DejaVu Sans';
const TICK_LEN = 7;

// Inward tick marks (MATLAB style)
const innerTicks = {
    id: 'innerTicks',
    afterDraw(chart) {
        const ctx = chart.ctx;
        const area = chart.chartArea;
        const xs = chart.scales.x;
        const ys = chart.scales.y;
        ctx.save();
        ctx.strokeStyle = AXIS_COLOR;
        ctx.lineWidth = 1;
        ctx.beginPath();
        xTicks.forEach(v => {
            const px = Math.round(xs.getPixelForValue(v)) + 0.5;
            ctx.moveTo(px, area.bottom);
            ctx.lineTo(px, area.bottom - TICK_LEN);
        });
        yTicks.forEach(v => {
            const py = Math.round(ys.getPixelForValue(v)) + 0.5;
            ctx.moveTo(area.left, py);
            ctx.lineTo(area.left + TICK_LEN, py);
        });
        ctx.stroke();
        ctx.restore();
    }
};

// Titles and axis labels
const figureText = {
    id: 'figureText',
    afterDraw(chart) {
        const ctx = chart.ctx;
        ctx.save();
        ctx.fillStyle = '#000';
        ctx.textBaseline = 'alphabetic';

        ctx.font = 'bold 22px "' + FONT + '"';
        ctx.textAlign = 'left';
        ctx.fillText('Kv11.1  Rat  CV1  25 °C', 157, 46.5);

        ctx.font = '22px "' + FONT + '"';
        ctx.textAlign = 'right';
        ctx.fillText('Activation', 839, 46);

        ctx.save();
        ctx.font = '22.3px "' + FONT + '"';
        ctx.textAlign = 'center';
        ctx.translate(856, 286);
        ctx.rotate(-Math.PI / 2);
        ctx.fillText('BBP Channelpedia ID 13511 rep 2', 0, 0);
        ctx.restore();

        ctx.fillStyle = AXIS_COLOR;
        ctx.font = '33px "' + FONT + '"';
        ctx.textAlign = 'center';
        ctx.fillText('t [s]', 486, 614);

        ctx.translate(38, 284);
        ctx.rotate(-Math.PI / 2);
        ctx.fillText('I [nA]', 0, 0);
        ctx.restore();
    }
};

function buildPoints(values) {
    return t.map((x, i) => ({ x: x, y: values[i] }));
}

const ctx = document.getElementById('activationChart');
new Chart(ctx, {
    type: 'line',
    data: {
        datasets: sweeps.map(s => ({
            data: buildPoints(s),
            borderColor: '#000',
            borderWidth: 2.6,
            borderJoinStyle: 'bevel',
            pointRadius: 0,
            tension: 0,
            spanGaps: true,
            fill: false,
            clip: false
        }))
    },
    options: {
        responsive: false,
        animation: false,
        events: [],
        layout: {
            padding: { left: 0, top: 47, right: 89, bottom: 0 }
        },
        plugins: {
            legend: { display: false },
            tooltip: { enabled: false }
        },
        scales: {
            x: {
                type: 'linear',
                min: xRange[0],
                max: xRange[1],
                grid: { drawOnChartArea: false, drawTicks: false },
                border: { display: true, color: AXIS_COLOR, width: 1 },
                afterBuildTicks: s => { s.ticks = xTicks.map(v => ({ value: v })); },
                afterFit: s => { s.height = 99; },
                ticks: {
                    color: AXIS_COLOR,
                    font: { family: FONT, size: 31 },
                    padding: 20,
                    maxRotation: 0,
                    autoSkip: false,
                    callback: v => String(v)
                }
            },
            y: {
                type: 'linear',
                min: yRange[0],
                max: yRange[1],
                grid: { drawOnChartArea: false, drawTicks: false },
                border: { display: true, color: AXIS_COLOR, width: 1 },
                afterBuildTicks: s => { s.ticks = yTicks.map(v => ({ value: v })); },
                afterFit: s => { s.width = 122; },
                ticks: {
                    color: AXIS_COLOR,
                    font: { family: FONT, size: 31 },
                    padding: 16,
                    autoSkip: false,
                    callback: v => String(v)
                }
            }
        }
    },
    plugins: [innerTicks, figureText]
});
</script>
</body>
</html>
